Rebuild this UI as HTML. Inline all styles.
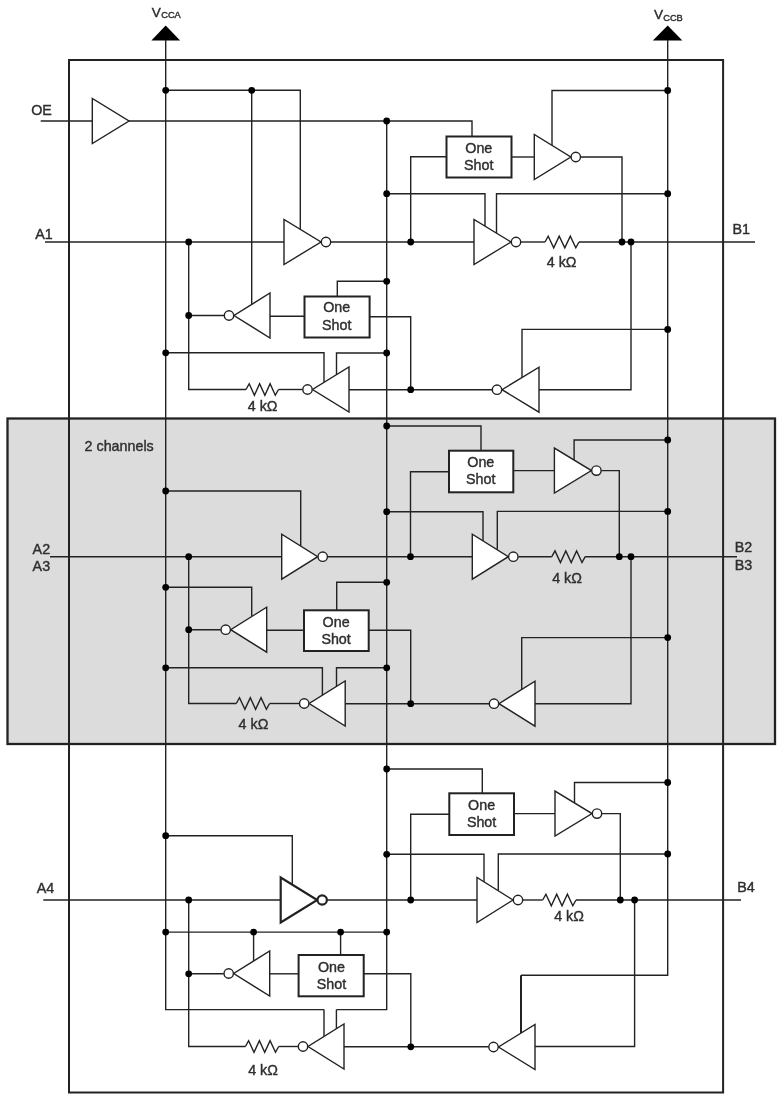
<!DOCTYPE html>
<html lang="en">
<head>
<meta charset="utf-8">
<title>Functional block diagram</title>
<style>
html,body{margin:0;padding:0;background:#fff;}
body{width:781px;height:1100px;overflow:hidden;}
svg{display:block;filter:blur(0.3px);}
svg text{font-family:"Liberation Sans",Arial,Helvetica,sans-serif;fill:#2e2e2e;stroke:#2e2e2e;stroke-width:0.4px;}
</style>
</head>
<body>
<svg width="781" height="1100" viewBox="0 0 781 1100">
<rect x="0" y="0" width="781" height="1100" fill="#fff"/>
<rect x="7.5" y="418.5" width="767.5" height="325.5" fill="#dcdcdc" stroke="#222" stroke-width="2.3"/>
<rect x="69.0" y="60.0" width="654.1" height="1032.5" fill="none" stroke="#222" stroke-width="2.0"/>
<path d="M151.4,40.6 L180.1,40.6 L165.7,25.4 Z" fill="#000"/>
<path d="M652.9,40.6 L682.3,40.6 L667.7,25.4 Z" fill="#000"/>
<path d="M165.7,40.0 L165.7,1009.6 L324.0,1009.6" fill="none" stroke="#222" stroke-width="1.4" stroke-linejoin="miter"/>
<path d="M667.7,40.0 L667.7,975.3 L521.0,975.3" fill="none" stroke="#222" stroke-width="1.4" stroke-linejoin="miter"/>
<path d="M40.7,121.0 L92.3,121.0" fill="none" stroke="#222" stroke-width="1.4" stroke-linejoin="miter"/>
<path d="M92.3,98.5 L92.3,143.5 L129.0,121.0 Z" fill="#fff" stroke="#222" stroke-width="1.4" stroke-linejoin="miter"/>
<path d="M129.0,121.0 L472.0,121.0 L472.0,136.5" fill="none" stroke="#222" stroke-width="1.4" stroke-linejoin="miter"/>
<path d="M386.7,121.0 L386.7,1009.6 L336.4,1009.6" fill="none" stroke="#222" stroke-width="1.4" stroke-linejoin="miter"/>
<path d="M45.0,242.0 L284.0,242.0" fill="none" stroke="#222" stroke-width="1.4" stroke-linejoin="miter"/>
<path d="M188.7,242.0 L188.7,389.5 L246.0,389.5" fill="none" stroke="#222" stroke-width="1.4" stroke-linejoin="miter"/>
<path d="M165.7,90.3 L300.3,90.3 L300.3,229.4" fill="none" stroke="#222" stroke-width="1.4" stroke-linejoin="miter"/>
<path d="M251.7,90.3 L251.7,304.4" fill="none" stroke="#222" stroke-width="1.4" stroke-linejoin="miter"/>
<path d="M284.0,219.5 L284.0,264.5 L321.0,242.0 Z" fill="#fff" stroke="#222" stroke-width="1.4" stroke-linejoin="miter"/>
<circle cx="326.0" cy="242.0" r="4.7" fill="#fff" stroke="#222" stroke-width="1.4"/>
<path d="M331.0,242.0 L474.0,242.0" fill="none" stroke="#222" stroke-width="1.4" stroke-linejoin="miter"/>
<path d="M410.7,242.0 L410.7,156.8 L446.5,156.8" fill="none" stroke="#222" stroke-width="1.4" stroke-linejoin="miter"/>
<rect x="446.5" y="136.5" width="65.0" height="41.0" fill="#fff" stroke="#222" stroke-width="2.0"/>
<path d="M511.5,157.0 L534.3,157.0" fill="none" stroke="#222" stroke-width="1.4" stroke-linejoin="miter"/>
<path d="M667.7,90.5 L552.0,90.5 L552.0,145.3" fill="none" stroke="#222" stroke-width="1.4" stroke-linejoin="miter"/>
<path d="M534.3,134.5 L534.3,179.5 L570.8,157.0 Z" fill="#fff" stroke="#222" stroke-width="1.4" stroke-linejoin="miter"/>
<circle cx="575.8" cy="157.0" r="4.7" fill="#fff" stroke="#222" stroke-width="1.4"/>
<path d="M580.8,157.0 L622.0,157.0 L622.0,242.0" fill="none" stroke="#222" stroke-width="1.4" stroke-linejoin="miter"/>
<path d="M386.7,193.7 L485.0,193.7 L485.0,226.2" fill="none" stroke="#222" stroke-width="1.4" stroke-linejoin="miter"/>
<path d="M667.7,193.7 L496.5,193.7 L496.5,233.2" fill="none" stroke="#222" stroke-width="1.4" stroke-linejoin="miter"/>
<path d="M474.0,219.5 L474.0,264.5 L511.0,242.0 Z" fill="#fff" stroke="#222" stroke-width="1.4" stroke-linejoin="miter"/>
<circle cx="516.0" cy="242.0" r="4.7" fill="#fff" stroke="#222" stroke-width="1.4"/>
<path d="M521.0,242.0 L545.0,242.0" fill="none" stroke="#222" stroke-width="1.4" stroke-linejoin="miter"/>
<path d="M545.0,242.0 L548.2,236.2 L553.7,247.8 L559.2,236.2 L564.8,247.8 L570.3,236.2 L575.8,247.8 L579.0,242.0" fill="none" stroke="#222" stroke-width="1.4" stroke-linejoin="miter"/>
<path d="M579.0,242.0 L755.0,242.0" fill="none" stroke="#222" stroke-width="1.4" stroke-linejoin="miter"/>
<path d="M631.0,242.0 L631.0,389.7 L539.0,389.7" fill="none" stroke="#222" stroke-width="1.4" stroke-linejoin="miter"/>
<path d="M667.7,329.4 L522.0,329.4 L522.0,377.5" fill="none" stroke="#222" stroke-width="1.4" stroke-linejoin="miter"/>
<path d="M539.0,367.2 L539.0,412.2 L502.0,389.7 Z" fill="#fff" stroke="#222" stroke-width="1.4" stroke-linejoin="miter"/>
<circle cx="497.0" cy="389.7" r="4.7" fill="#fff" stroke="#222" stroke-width="1.4"/>
<path d="M492.0,389.7 L349.0,389.7" fill="none" stroke="#222" stroke-width="1.4" stroke-linejoin="miter"/>
<path d="M165.7,352.8 L324.0,352.8 L324.0,382.2" fill="none" stroke="#222" stroke-width="1.4" stroke-linejoin="miter"/>
<path d="M386.7,353.0 L336.5,353.0 L336.5,374.6" fill="none" stroke="#222" stroke-width="1.4" stroke-linejoin="miter"/>
<path d="M349.0,367.0 L349.0,412.0 L312.5,389.5 Z" fill="#fff" stroke="#222" stroke-width="1.4" stroke-linejoin="miter"/>
<circle cx="307.5" cy="389.5" r="4.7" fill="#fff" stroke="#222" stroke-width="1.4"/>
<path d="M302.5,389.5 L278.5,389.5" fill="none" stroke="#222" stroke-width="1.4" stroke-linejoin="miter"/>
<path d="M246.0,389.5 L249.2,383.7 L254.4,395.3 L259.6,383.7 L264.9,395.3 L270.1,383.7 L275.3,395.3 L278.5,389.5" fill="none" stroke="#222" stroke-width="1.4" stroke-linejoin="miter"/>
<path d="M386.7,281.3 L337.3,281.3 L337.3,296.7" fill="none" stroke="#222" stroke-width="1.4" stroke-linejoin="miter"/>
<rect x="304.5" y="296.5" width="65.1" height="41.0" fill="#fff" stroke="#222" stroke-width="2.0"/>
<path d="M369.3,316.7 L410.7,316.7 L410.7,389.7" fill="none" stroke="#222" stroke-width="1.4" stroke-linejoin="miter"/>
<path d="M304.7,316.2 L270.0,316.2" fill="none" stroke="#222" stroke-width="1.4" stroke-linejoin="miter"/>
<path d="M270.0,293.0 L270.0,338.0 L234.0,315.5 Z" fill="#fff" stroke="#222" stroke-width="1.4" stroke-linejoin="miter"/>
<circle cx="229.0" cy="315.5" r="4.7" fill="#fff" stroke="#222" stroke-width="1.4"/>
<path d="M224.0,315.5 L188.7,315.5" fill="none" stroke="#222" stroke-width="1.4" stroke-linejoin="miter"/>
<path d="M50.0,556.7 L281.7,556.7" fill="none" stroke="#222" stroke-width="1.4" stroke-linejoin="miter"/>
<path d="M188.7,556.7 L188.7,703.5 L236.3,703.5" fill="none" stroke="#222" stroke-width="1.4" stroke-linejoin="miter"/>
<path d="M165.7,491.0 L300.7,491.0 L300.7,546.1" fill="none" stroke="#222" stroke-width="1.4" stroke-linejoin="miter"/>
<path d="M281.7,534.2 L281.7,579.2 L317.7,556.7 Z" fill="#fff" stroke="#222" stroke-width="1.4" stroke-linejoin="miter"/>
<circle cx="322.7" cy="556.7" r="4.7" fill="#fff" stroke="#222" stroke-width="1.4"/>
<path d="M327.7,556.7 L472.3,556.7" fill="none" stroke="#222" stroke-width="1.4" stroke-linejoin="miter"/>
<path d="M410.5,556.7 L410.5,471.7 L449.0,471.7" fill="none" stroke="#222" stroke-width="1.4" stroke-linejoin="miter"/>
<path d="M386.7,426.0 L481.0,426.0 L481.0,450.7" fill="none" stroke="#222" stroke-width="1.4" stroke-linejoin="miter"/>
<rect x="449.0" y="450.7" width="64.3" height="41.6" fill="#fff" stroke="#222" stroke-width="2.0"/>
<path d="M513.3,470.6 L554.4,470.6" fill="none" stroke="#222" stroke-width="1.4" stroke-linejoin="miter"/>
<path d="M667.7,440.0 L574.1,440.0 L574.1,460.1" fill="none" stroke="#222" stroke-width="1.4" stroke-linejoin="miter"/>
<path d="M554.4,448.1 L554.4,493.1 L591.4,470.6 Z" fill="#fff" stroke="#222" stroke-width="1.4" stroke-linejoin="miter"/>
<circle cx="596.4" cy="470.6" r="4.7" fill="#fff" stroke="#222" stroke-width="1.4"/>
<path d="M601.4,470.6 L619.3,470.6 L619.3,556.7" fill="none" stroke="#222" stroke-width="1.4" stroke-linejoin="miter"/>
<path d="M386.7,511.7 L483.0,511.7 L483.0,540.9" fill="none" stroke="#222" stroke-width="1.4" stroke-linejoin="miter"/>
<path d="M667.7,511.4 L497.3,511.4 L497.3,549.8" fill="none" stroke="#222" stroke-width="1.4" stroke-linejoin="miter"/>
<path d="M472.3,534.2 L472.3,579.2 L508.3,556.7 Z" fill="#fff" stroke="#222" stroke-width="1.4" stroke-linejoin="miter"/>
<circle cx="513.3" cy="556.7" r="4.7" fill="#fff" stroke="#222" stroke-width="1.4"/>
<path d="M518.3,556.7 L551.8,556.7" fill="none" stroke="#222" stroke-width="1.4" stroke-linejoin="miter"/>
<path d="M551.8,556.7 L555.0,550.9 L560.4,562.5 L565.8,550.9 L571.2,562.5 L576.6,550.9 L582.0,562.5 L585.2,556.7" fill="none" stroke="#222" stroke-width="1.4" stroke-linejoin="miter"/>
<path d="M585.2,556.7 L737.0,556.7" fill="none" stroke="#222" stroke-width="1.4" stroke-linejoin="miter"/>
<path d="M631.0,556.7 L631.0,703.7 L535.0,703.7" fill="none" stroke="#222" stroke-width="1.4" stroke-linejoin="miter"/>
<path d="M667.7,637.6 L521.7,637.6 L521.7,689.5" fill="none" stroke="#222" stroke-width="1.4" stroke-linejoin="miter"/>
<path d="M535.0,681.2 L535.0,726.2 L499.0,703.7 Z" fill="#fff" stroke="#222" stroke-width="1.4" stroke-linejoin="miter"/>
<circle cx="494.0" cy="703.7" r="4.7" fill="#fff" stroke="#222" stroke-width="1.4"/>
<path d="M489.0,703.7 L345.2,703.7" fill="none" stroke="#222" stroke-width="1.4" stroke-linejoin="miter"/>
<path d="M165.7,667.8 L322.4,667.8 L322.4,695.2" fill="none" stroke="#222" stroke-width="1.4" stroke-linejoin="miter"/>
<path d="M386.7,667.8 L336.5,667.8 L336.5,686.4" fill="none" stroke="#222" stroke-width="1.4" stroke-linejoin="miter"/>
<path d="M345.2,681.0 L345.2,726.0 L309.2,703.5 Z" fill="#fff" stroke="#222" stroke-width="1.4" stroke-linejoin="miter"/>
<circle cx="304.2" cy="703.5" r="4.7" fill="#fff" stroke="#222" stroke-width="1.4"/>
<path d="M299.2,703.5 L269.6,703.5" fill="none" stroke="#222" stroke-width="1.4" stroke-linejoin="miter"/>
<path d="M236.3,703.5 L239.5,697.7 L244.9,709.3 L250.3,697.7 L255.6,709.3 L261.0,697.7 L266.4,709.3 L269.6,703.5" fill="none" stroke="#222" stroke-width="1.4" stroke-linejoin="miter"/>
<path d="M386.7,582.3 L336.7,582.3 L336.7,610.3" fill="none" stroke="#222" stroke-width="1.4" stroke-linejoin="miter"/>
<rect x="304.0" y="610.3" width="64.7" height="40.7" fill="#fff" stroke="#222" stroke-width="2.0"/>
<path d="M368.7,630.3 L410.7,630.3 L410.7,703.7" fill="none" stroke="#222" stroke-width="1.4" stroke-linejoin="miter"/>
<path d="M304.0,630.3 L266.7,630.3" fill="none" stroke="#222" stroke-width="1.4" stroke-linejoin="miter"/>
<path d="M165.7,587.3 L251.7,587.3 L251.7,616.6" fill="none" stroke="#222" stroke-width="1.4" stroke-linejoin="miter"/>
<path d="M266.7,607.2 L266.7,652.2 L230.7,629.7 Z" fill="#fff" stroke="#222" stroke-width="1.4" stroke-linejoin="miter"/>
<circle cx="225.7" cy="629.7" r="4.7" fill="#fff" stroke="#222" stroke-width="1.4"/>
<path d="M220.7,629.7 L188.7,629.7" fill="none" stroke="#222" stroke-width="1.4" stroke-linejoin="miter"/>
<path d="M43.3,900.0 L280.7,900.0" fill="none" stroke="#222" stroke-width="1.4" stroke-linejoin="miter"/>
<path d="M188.7,900.0 L188.7,1046.5 L245.4,1046.5" fill="none" stroke="#222" stroke-width="1.4" stroke-linejoin="miter"/>
<path d="M165.7,835.7 L292.3,835.7 L292.3,884.7" fill="none" stroke="#222" stroke-width="1.4" stroke-linejoin="miter"/>
<path d="M280.7,877.5 L280.7,922.5 L317.2,900.0 Z" fill="#fff" stroke="#222" stroke-width="2.2" stroke-linejoin="miter"/>
<circle cx="322.2" cy="900.0" r="4.7" fill="#fff" stroke="#222" stroke-width="2.2"/>
<path d="M327.2,900.0 L477.0,900.0" fill="none" stroke="#222" stroke-width="1.4" stroke-linejoin="miter"/>
<path d="M410.7,900.0 L410.7,814.3 L449.3,814.3" fill="none" stroke="#222" stroke-width="1.4" stroke-linejoin="miter"/>
<path d="M386.7,769.0 L482.3,769.0 L482.3,793.3" fill="none" stroke="#222" stroke-width="1.4" stroke-linejoin="miter"/>
<rect x="449.3" y="793.3" width="64.7" height="41.7" fill="#fff" stroke="#222" stroke-width="2.0"/>
<path d="M514.0,813.6 L555.0,813.6" fill="none" stroke="#222" stroke-width="1.4" stroke-linejoin="miter"/>
<path d="M667.7,782.5 L574.5,782.5 L574.5,803.0" fill="none" stroke="#222" stroke-width="1.4" stroke-linejoin="miter"/>
<path d="M555.0,791.1 L555.0,836.1 L592.0,813.6 Z" fill="#fff" stroke="#222" stroke-width="1.4" stroke-linejoin="miter"/>
<circle cx="597.0" cy="813.6" r="4.7" fill="#fff" stroke="#222" stroke-width="1.4"/>
<path d="M602.0,813.6 L620.3,813.6 L620.3,900.0" fill="none" stroke="#222" stroke-width="1.4" stroke-linejoin="miter"/>
<path d="M386.7,854.3 L484.0,854.3 L484.0,881.9" fill="none" stroke="#222" stroke-width="1.4" stroke-linejoin="miter"/>
<path d="M667.7,854.0 L498.3,854.0 L498.3,890.8" fill="none" stroke="#222" stroke-width="1.4" stroke-linejoin="miter"/>
<path d="M477.0,877.5 L477.0,922.5 L513.0,900.0 Z" fill="#fff" stroke="#222" stroke-width="1.4" stroke-linejoin="miter"/>
<circle cx="518.0" cy="900.0" r="4.7" fill="#fff" stroke="#222" stroke-width="1.4"/>
<path d="M523.0,900.0 L542.7,900.0" fill="none" stroke="#222" stroke-width="1.4" stroke-linejoin="miter"/>
<path d="M542.7,900.0 L545.9,894.2 L551.3,905.8 L556.7,894.2 L562.0,905.8 L567.4,894.2 L572.8,905.8 L576.0,900.0" fill="none" stroke="#222" stroke-width="1.4" stroke-linejoin="miter"/>
<path d="M576.0,900.0 L741.0,900.0" fill="none" stroke="#222" stroke-width="1.4" stroke-linejoin="miter"/>
<path d="M634.6,900.0 L634.6,1046.5 L535.0,1046.5" fill="none" stroke="#222" stroke-width="1.4" stroke-linejoin="miter"/>
<path d="M521.0,975.3 L521.0,1033.1" fill="none" stroke="#222" stroke-width="2.0" stroke-linejoin="miter"/>
<path d="M535.0,1024.5 L535.0,1069.5 L498.5,1047.0 Z" fill="#fff" stroke="#222" stroke-width="1.4" stroke-linejoin="miter"/>
<circle cx="493.5" cy="1047.0" r="4.7" fill="#fff" stroke="#222" stroke-width="1.4"/>
<path d="M488.5,1046.8 L344.0,1046.8" fill="none" stroke="#222" stroke-width="1.4" stroke-linejoin="miter"/>
<path d="M324.0,1009.6 L324.0,1036.5" fill="none" stroke="#222" stroke-width="1.4" stroke-linejoin="miter"/>
<path d="M336.4,1009.6 L336.4,1028.8" fill="none" stroke="#222" stroke-width="1.4" stroke-linejoin="miter"/>
<path d="M344.0,1024.0 L344.0,1069.0 L308.0,1046.5 Z" fill="#fff" stroke="#222" stroke-width="1.4" stroke-linejoin="miter"/>
<circle cx="303.0" cy="1046.5" r="4.7" fill="#fff" stroke="#222" stroke-width="1.4"/>
<path d="M298.0,1046.5 L278.7,1046.5" fill="none" stroke="#222" stroke-width="1.4" stroke-linejoin="miter"/>
<path d="M245.4,1046.5 L248.6,1040.7 L254.0,1052.3 L259.4,1040.7 L264.7,1052.3 L270.1,1040.7 L275.5,1052.3 L278.7,1046.5" fill="none" stroke="#222" stroke-width="1.4" stroke-linejoin="miter"/>
<path d="M165.7,932.1 L386.7,932.1" fill="none" stroke="#222" stroke-width="1.4" stroke-linejoin="miter"/>
<path d="M253.6,932.1 L253.6,961.1" fill="none" stroke="#222" stroke-width="1.4" stroke-linejoin="miter"/>
<path d="M340.6,932.1 L340.6,955.0" fill="none" stroke="#222" stroke-width="1.4" stroke-linejoin="miter"/>
<rect x="298.6" y="955.0" width="65.1" height="41.3" fill="#fff" stroke="#222" stroke-width="2.0"/>
<path d="M363.7,973.8 L410.8,973.8 L410.8,1046.8" fill="none" stroke="#222" stroke-width="1.4" stroke-linejoin="miter"/>
<path d="M298.6,973.8 L269.7,973.8" fill="none" stroke="#222" stroke-width="1.4" stroke-linejoin="miter"/>
<path d="M269.7,951.0 L269.7,996.0 L233.7,973.5 Z" fill="#fff" stroke="#222" stroke-width="1.4" stroke-linejoin="miter"/>
<circle cx="228.7" cy="973.5" r="4.7" fill="#fff" stroke="#222" stroke-width="1.4"/>
<path d="M223.7,973.8 L188.7,973.8" fill="none" stroke="#222" stroke-width="1.4" stroke-linejoin="miter"/>
<circle cx="386.7" cy="121.0" r="3.4" fill="#000"/>
<circle cx="188.7" cy="242.0" r="3.4" fill="#000"/>
<circle cx="165.7" cy="90.3" r="3.4" fill="#000"/>
<circle cx="251.7" cy="90.3" r="3.4" fill="#000"/>
<circle cx="410.7" cy="242.0" r="3.4" fill="#000"/>
<circle cx="667.7" cy="90.5" r="3.4" fill="#000"/>
<circle cx="386.7" cy="193.7" r="3.4" fill="#000"/>
<circle cx="667.7" cy="193.7" r="3.4" fill="#000"/>
<circle cx="622.0" cy="242.0" r="3.4" fill="#000"/>
<circle cx="631.0" cy="242.0" r="3.4" fill="#000"/>
<circle cx="667.7" cy="329.4" r="3.4" fill="#000"/>
<circle cx="410.7" cy="389.7" r="3.4" fill="#000"/>
<circle cx="165.7" cy="352.8" r="3.4" fill="#000"/>
<circle cx="386.7" cy="353.0" r="3.4" fill="#000"/>
<circle cx="386.7" cy="281.3" r="3.4" fill="#000"/>
<circle cx="188.7" cy="315.5" r="3.4" fill="#000"/>
<circle cx="188.7" cy="556.7" r="3.4" fill="#000"/>
<circle cx="165.7" cy="491.0" r="3.4" fill="#000"/>
<circle cx="410.5" cy="556.7" r="3.4" fill="#000"/>
<circle cx="386.7" cy="426.0" r="3.4" fill="#000"/>
<circle cx="667.7" cy="440.0" r="3.4" fill="#000"/>
<circle cx="386.7" cy="511.7" r="3.4" fill="#000"/>
<circle cx="667.7" cy="511.4" r="3.4" fill="#000"/>
<circle cx="619.3" cy="556.7" r="3.4" fill="#000"/>
<circle cx="631.0" cy="556.7" r="3.4" fill="#000"/>
<circle cx="667.7" cy="637.6" r="3.4" fill="#000"/>
<circle cx="410.7" cy="703.7" r="3.4" fill="#000"/>
<circle cx="165.7" cy="667.8" r="3.4" fill="#000"/>
<circle cx="386.7" cy="667.8" r="3.4" fill="#000"/>
<circle cx="386.7" cy="582.3" r="3.4" fill="#000"/>
<circle cx="165.7" cy="587.3" r="3.4" fill="#000"/>
<circle cx="188.7" cy="629.7" r="3.4" fill="#000"/>
<circle cx="188.7" cy="900.0" r="3.4" fill="#000"/>
<circle cx="165.7" cy="835.7" r="3.4" fill="#000"/>
<circle cx="410.7" cy="900.0" r="3.4" fill="#000"/>
<circle cx="386.7" cy="769.0" r="3.4" fill="#000"/>
<circle cx="667.7" cy="782.5" r="3.4" fill="#000"/>
<circle cx="386.7" cy="854.3" r="3.4" fill="#000"/>
<circle cx="667.7" cy="854.0" r="3.4" fill="#000"/>
<circle cx="620.3" cy="900.0" r="3.4" fill="#000"/>
<circle cx="634.6" cy="900.0" r="3.4" fill="#000"/>
<circle cx="410.8" cy="1046.8" r="3.4" fill="#000"/>
<circle cx="165.7" cy="932.1" r="3.4" fill="#000"/>
<circle cx="253.6" cy="932.1" r="3.4" fill="#000"/>
<circle cx="340.6" cy="932.1" r="3.4" fill="#000"/>
<circle cx="386.7" cy="932.1" r="3.4" fill="#000"/>
<circle cx="188.7" cy="973.8" r="3.4" fill="#000"/>
<text x="478.8" y="153.1" font-size="14.3" text-anchor="middle">One</text>
<text x="478.8" y="170.3" font-size="14.3" text-anchor="middle">Shot</text>
<text x="336.7" y="312.3" font-size="14.3" text-anchor="middle">One</text>
<text x="336.7" y="329.7" font-size="14.3" text-anchor="middle">Shot</text>
<text x="480.8" y="466.8" font-size="14.3" text-anchor="middle">One</text>
<text x="480.8" y="484.0" font-size="14.3" text-anchor="middle">Shot</text>
<text x="336.1" y="626.5" font-size="14.3" text-anchor="middle">One</text>
<text x="336.1" y="643.9" font-size="14.3" text-anchor="middle">Shot</text>
<text x="481.6" y="809.8" font-size="14.3" text-anchor="middle">One</text>
<text x="481.6" y="827.2" font-size="14.3" text-anchor="middle">Shot</text>
<text x="331.5" y="972.0" font-size="14.3" text-anchor="middle">One</text>
<text x="331.5" y="989.2" font-size="14.3" text-anchor="middle">Shot</text>
<text x="151.8" y="16.9" font-size="13.6" text-anchor="start">V</text>
<text x="161.2" y="18.3" font-size="9.3" text-anchor="start">CCA</text>
<text x="654.0" y="19.3" font-size="13.6" text-anchor="start">V</text>
<text x="663.2" y="20.5" font-size="9.3" text-anchor="start">CCB</text>
<text x="31.2" y="115.0" font-size="14.3" text-anchor="start">OE</text>
<text x="35.3" y="238.5" font-size="14.3" text-anchor="start">A1</text>
<text x="732.5" y="234.4" font-size="14.3" text-anchor="start">B1</text>
<text x="32.6" y="553.6" font-size="14.3" text-anchor="start">A2</text>
<text x="32.6" y="571.0" font-size="14.3" text-anchor="start">A3</text>
<text x="734.8" y="552.3" font-size="14.3" text-anchor="start">B2</text>
<text x="734.8" y="569.8" font-size="14.3" text-anchor="start">B3</text>
<text x="36.7" y="893.0" font-size="14.3" text-anchor="start">A4</text>
<text x="737.2" y="892.4" font-size="14.3" text-anchor="start">B4</text>
<text x="84.6" y="450.8" font-size="14.3" text-anchor="start">2 channels</text>
<text x="546.8" y="267.4" font-size="14.3" text-anchor="start">4 kΩ</text>
<text x="247.8" y="411.0" font-size="14.3" text-anchor="start">4 kΩ</text>
<text x="552.2" y="582.8" font-size="14.3" text-anchor="start">4 kΩ</text>
<text x="238.6" y="728.9" font-size="14.3" text-anchor="start">4 kΩ</text>
<text x="554.2" y="920.8" font-size="14.3" text-anchor="start">4 kΩ</text>
<text x="248.2" y="1075.0" font-size="14.3" text-anchor="start">4 kΩ</text>
</svg>
</body>
</html>
